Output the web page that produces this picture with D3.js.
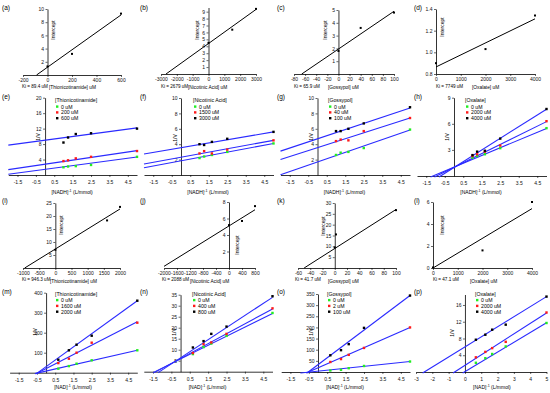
<!DOCTYPE html>
<html>
<head>
<meta charset="utf-8">
<script src="https://cdn.jsdelivr.net/npm/d3@7"></script>
<style>
  body { margin: 0; background: #fff; }
  svg { font-family: "Liberation Sans", Arial, sans-serif; }
</style>
</head>
<body>
<div id="chart"></div>
<script>
// ---- secondary replots: inhibitor concentration vs intercept ----
const concA = [0, 200, 600], interceptA = [1.3, 3.2, 9.3], fitA = [1.18, 0.0132];
const concB = [0, 1500, 3000], interceptB = [4.5, 6.4, 9.4], fitB = [4.4, 0.00164];
const concC = [0, 40, 100], interceptC = [1.8, 3.6, 4.8], fitC = [1.95, 0.0295];
const concD = [0, 2000, 4000], interceptD = [0.9, 1.03, 1.34], fitD = [0.865, 0.000111];
const concI = [0, 1600, 2000], interceptI = [7.0, 18.3, 23.5], fitI = [7.3, 0.0077];
const concJ = [0, 400, 800], interceptJ = [5.2, 5.7, 7.5], fitJ = [5.1, 0.00245];
const concK = [0, 2, 100], interceptK = [9.5, 15.5, 26.7], fitK = [9.0, 0.18];
const concL = [0, 2000, 4000], interceptL = [0.05, 1.6, 6.0], fitL = [0, 0.00135];

const kiText = ["Ki = 89.4 uM", "Ki = 2679 uM", "Ki = 65.9 uM", "Ki = 7749 uM",
                "Ki = 946.3 uM", "Ki = 2088 uM", "Ki = 41.7 uM", "Ki = 47.1 uM"];
const inhibitors = ["[Thionicotinamide]", "[Nicotinic Acid]", "[Gossypol]", "[Oxalate]"];

// ---- Lineweaver-Burk plots ----
const nadhInv = [1, 1.25, 1.67, 2.5, 5];
const nadInv = [0.67, 1.25, 1.67, 2.5, 5];
const halfTicks = [-1.5, -0.5, 0.5, 1.5, 2.5, 3.5, 4.5];

const seriesE = ["0 uM", "200 uM", "600 uM"];
const valuesE = [[2.0, 2.2, 2.3, 2.6, 4.7], [3.6, 3.8, 4.3, 4.7, 6.2], [8.4, 9.7, 10.6, 10.8, 12.0]];
const fitsE = [[1.47, 0.636], [2.8, 0.7], [9.0, 0.64]];

const seriesF = ["0 uM", "1500 uM", "3000 uM"];
const valuesF = [[2.2, 2.4, 2.6, 3.0, 4.1], [2.8, 3.1, 2.8, 3.3, 4.5], [4.0, 3.9, 4.3, 4.7, 5.6]];
const fitsF = [[1.85, 0.45], [2.3, 0.44], [3.55, 0.41]];

const seriesG = ["0 uM", "40 uM", "100 uM"];
const valuesG = [[2.6, 2.9, 3.0, 3.5, 5.9], [4.4, 4.6, 4.5, 5.7, 7.4], [5.7, 5.7, 6.0, 6.7, 8.8]];
const fitsG = [[1.7, 0.83], [3.55, 0.77], [4.7, 0.8]];

const seriesH = ["0 uM", "2000 uM", "4000 uM"];
const valuesH = [[2.1, 2.3, 2.5, 3.2, 5.5], [2.3, 2.5, 2.8, 3.5, 6.3], [2.4, 2.8, 2.9, 4.3, 7.7]];
const fitsH = [[1.02, 0.89], [1.0, 1.05], [0.98, 1.34]];

const seriesM = ["0 uM", "1600 uM", "2000 uM"];
const valuesM = [[20, 33, 45, 62, 112], [48, 70, 100, 150, 250], [65, 112, 140, 185, 360]];
const fitsM = [[8, 20.8], [21, 46.8], [30, 66]];

const seriesN = ["0 uM", "400 uM", "800 uM"];
const valuesN = [[8, 11.2, 12.8, 16.3, 26.7], [8.5, 12.5, 13.3, 17.2, 28.8], [11, 13.9, 17.2, 20.5, 34.3]];
const fitsN = [[5.8, 4.14], [6.0, 4.5], [6.3, 5.5]];

const seriesO = ["0 uM", "2 uM", "100 uM"];
const valuesO = [[7, 10, 17, 27, 47], [45, 58, 77, 108, 200], [75, 98, 125, 198, 343]];
const fitsO = [[4, 8.6], [19, 36.2], [33, 62]];

const seriesP = ["0 uM", "2000 uM", "4000 uM"];
const valuesP = [[2.2, 3.3, 4.3, 6.1, 11.7], [3.5, 4.8, 5.7, 7.2, 14.2], [7.7, 8.9, 10.1, 11.3, 18.0]];
const fitsP = [[0.1, 2.33], [1.6, 2.5], [6.0, 2.4]];

const colors = ["#22ee22", "#ff1a1a", "#000000"];
const lineColor = "#2a2aff";

const svg = d3.select("#chart").append("svg").attr("width", 550).attr("height", 393);

function axisStyle(g) {
  g.select(".domain").attr("stroke", "#000").attr("stroke-width", 0.8);
  g.selectAll(".tick line").attr("stroke", "#000").attr("stroke-width", 0.6);
  g.selectAll(".tick text").attr("font-size", 5).attr("fill", "#111");
}

function tag(txt, x, y) {
  svg.append("text").attr("x", x).attr("y", y).attr("font-size", 6.5).text(txt);
}

function rotLabel(txt, x, y) {
  svg.append("text")
    .attr("transform", `translate(${x},${y}) rotate(-90)`)
    .attr("text-anchor", "middle").attr("dy", "0.35em")
    .attr("font-size", 5).text(txt);
}

function kiPanel(p) {
  const x = d3.scaleLinear().domain(p.xd).range(p.xr);
  const y = d3.scaleLinear().domain(p.yd).range(p.yr);
  svg.append("g").attr("transform", `translate(0,${p.yr[0]})`)
    .call(d3.axisBottom(x).tickValues(p.xt).tickSize(2).tickSizeOuter(0).tickPadding(1.5).tickFormat(String))
    .call(axisStyle);
  svg.append("g").attr("transform", `translate(${x(0)},0)`)
    .call(d3.axisLeft(y).tickValues(p.yt).tickSize(2).tickSizeOuter(0).tickPadding(1.5).tickFormat(p.yf || String))
    .call(axisStyle);

  const [b, m] = p.fit;
  const xs = Math.max(p.xd[0], (p.yd[0] - b) / m);
  const xe = p.xd[1];
  svg.append("line")
    .attr("x1", x(xs)).attr("y1", y(b + m * xs))
    .attr("x2", x(xe)).attr("y2", y(b + m * xe))
    .attr("stroke", "#000").attr("stroke-width", 1);

  svg.append("g").selectAll("rect").data(p.conc).join("rect")
    .attr("x", (d) => x(d) - 1).attr("y", (d, i) => y(p.val[i]) - 1)
    .attr("width", 2).attr("height", 2).attr("fill", "#000");

  tag(p.tag, p.tagPos[0], p.tagPos[1]);
  rotLabel("Intercept", p.icpt[0], p.icpt[1]);
  svg.append("text").attr("x", p.ki[0]).attr("y", p.ki[1]).attr("font-size", 4.6).text(p.kiText);
  svg.append("text").attr("x", p.title[0]).attr("y", p.title[1]).attr("font-size", 4.8).text(p.inh + " uM");
}

function lbPanel(p) {
  const x = d3.scaleLinear().domain(p.xd).range(p.xr);
  const y = d3.scaleLinear().domain(p.yd).range(p.yr);
  svg.append("g").attr("transform", `translate(0,${p.yr[0]})`)
    .call(d3.axisBottom(x).tickValues(p.xt).tickSize(2).tickSizeOuter(0).tickPadding(3.5).tickFormat(String))
    .call(axisStyle);
  svg.append("g").attr("transform", `translate(${x(0)},0)`)
    .call(d3.axisLeft(y).tickValues(p.yt).tickSize(2).tickSizeOuter(0).tickPadding(1.5).tickFormat(String))
    .call(axisStyle);

  const yStart = -0.012 * p.yd[1];
  p.fits.forEach(([b, m]) => {
    const xs = Math.max(p.xd[0], (yStart - b) / m);
    const xe = p.xd[1];
    svg.append("line")
      .attr("x1", x(xs)).attr("y1", y(b + m * xs))
      .attr("x2", x(xe)).attr("y2", y(b + m * xe))
      .attr("stroke", lineColor).attr("stroke-width", 1.1);
  });

  p.vals.forEach((vs, k) => {
    svg.append("g").selectAll("rect").data(vs).join("rect")
      .attr("x", (d, i) => x(p.xs[i]) - 1.2).attr("y", (d) => y(d) - 1.2)
      .attr("width", 2.4).attr("height", 2.4).attr("fill", colors[k]);
  });

  // legend
  const [lx, ly] = p.leg;
  svg.append("text").attr("x", lx).attr("y", ly).attr("font-size", 5.2).text(p.inh);
  p.series.forEach((s, k) => {
    const yy = ly + 6.5 + k * 5.8;
    svg.append("rect").attr("x", lx + 1).attr("y", yy - 3.1)
      .attr("width", 2.4).attr("height", 2.4).attr("fill", colors[k]);
    svg.append("text").attr("x", lx + 6).attr("y", yy).attr("font-size", 5.2).text(s);
  });

  tag(p.tag, p.tagPos[0], p.tagPos[1]);
  rotLabel("1/V", p.yl[0], p.yl[1]);
  const t = svg.append("text").attr("x", x(0) + 27).attr("y", p.xl)
    .attr("text-anchor", "middle").attr("font-size", 5);
  t.append("tspan").text(p.sub);
  t.append("tspan").attr("dy", -2).attr("font-size", 3.6).text("-1");
  t.append("tspan").attr("dy", 2).text(" (L/mmol)");
}

const range = (a, b, s) => d3.range(a, b + s / 2, s);

// row 1
kiPanel({ xd: [-200, 600], xr: [23, 121], yd: [0, 10], yr: [75, 9], xt: range(-200, 600, 200), yt: range(2, 10, 2),
  conc: concA, val: interceptA, fit: fitA, tag: "(a)", tagPos: [2, 10], icpt: [53, 30],
  ki: [22, 88], kiText: kiText[0], title: [49, 89], inh: inhibitors[0] });
kiPanel({ xd: [-3000, 3000], xr: [161, 256], yd: [0, 9.6], yr: [74, 7.5], xt: range(-3000, 3000, 1000), yt: range(1, 9, 1),
  conc: concB, val: interceptB, fit: fitB, tag: "(b)", tagPos: [140, 10], icpt: [197, 30],
  ki: [161, 88], kiText: kiText[1], title: [188, 89], inh: inhibitors[1] });
kiPanel({ xd: [-80, 100], xr: [294, 394], yd: [0, 5], yr: [74, 10], xt: range(-80, 100, 20), yt: range(1, 5, 1),
  conc: concC, val: interceptC, fit: fitC, tag: "(c)", tagPos: [277, 10], icpt: [325, 30],
  ki: [294, 88], kiText: kiText[2], title: [328, 89], inh: inhibitors[2] });
kiPanel({ xd: [0, 4000], xr: [436, 535], yd: [0.8, 1.4], yr: [74, 9], xt: range(0, 4000, 1000), yt: [0.8, 1.0, 1.2, 1.4],
  yf: d3.format(".1f"), conc: concD, val: interceptD, fit: fitD, tag: "(d)", tagPos: [414, 10], icpt: [442, 27],
  ki: [436, 88], kiText: kiText[3], title: [472, 89], inh: inhibitors[3] });

// row 2
lbPanel({ xd: [-2, 5], xr: [8.3, 137], yd: [0, 20], yr: [175, 97.7], xt: halfTicks, yt: range(4, 20, 4),
  xs: nadhInv, vals: valuesE, fits: fitsE, series: seriesE, inh: inhibitors[0], leg: [55, 102],
  tag: "(e)", tagPos: [2, 99], yl: [38.5, 137], xl: 194, sub: "[NADH]" });
lbPanel({ xd: [-2, 5], xr: [144, 273.5], yd: [0, 10], yr: [175, 98], xt: halfTicks, yt: range(2, 10, 2),
  xs: nadhInv, vals: valuesF, fits: fitsF, series: seriesF, inh: inhibitors[1], leg: [193, 102],
  tag: "(f)", tagPos: [140, 99], yl: [175, 138], xl: 194, sub: "[NADH]" });
lbPanel({ xd: [-2, 5], xr: [280.5, 410], yd: [0, 10], yr: [175, 98], xt: halfTicks, yt: range(2, 10, 2),
  xs: nadhInv, vals: valuesG, fits: fitsG, series: seriesG, inh: inhibitors[2], leg: [328, 102],
  tag: "(g)", tagPos: [277, 99], yl: [311, 137], xl: 194, sub: "[NADH]" });
lbPanel({ xd: [-2, 5], xr: [417, 546.5], yd: [0, 9], yr: [176, 97.7], xt: halfTicks, yt: [3, 6, 9],
  xs: nadhInv, vals: valuesH, fits: fitsH, series: seriesH, inh: inhibitors[3], leg: [465, 102],
  tag: "(h)", tagPos: [414, 99], yl: [447, 137], xl: 194, sub: "[NADH]" });

// row 3
kiPanel({ xd: [-1000, 2000], xr: [23, 120], yd: [0, 25], yr: [268, 203], xt: range(-1000, 2000, 500), yt: range(5, 25, 5),
  conc: concI, val: interceptI, fit: fitI, tag: "(i)", tagPos: [2, 203], icpt: [61, 225],
  ki: [22, 281], kiText: kiText[4], title: [50, 283], inh: inhibitors[0] });
kiPanel({ xd: [-2000, 800], xr: [164, 255], yd: [0, 8], yr: [268, 202], xt: range(-2000, 800, 400), yt: range(2, 8, 2),
  conc: concJ, val: interceptJ, fit: fitJ, tag: "(j)", tagPos: [140, 203], icpt: [237, 245],
  ki: [162, 281], kiText: kiText[5], title: [190, 283], inh: inhibitors[1] });
kiPanel({ xd: [-60, 100], xr: [298, 396], yd: [0, 30], yr: [268, 203], xt: range(-60, 100, 20), yt: range(5, 30, 5),
  conc: concK, val: interceptK, fit: fitK, tag: "(k)", tagPos: [277, 203], icpt: [323, 226],
  ki: [295, 281], kiText: kiText[6], title: [328, 283], inh: inhibitors[2] });
kiPanel({ xd: [0, 4000], xr: [433, 532], yd: [0, 6], yr: [268, 202], xt: range(0, 4000, 1000), yt: range(0, 6, 2),
  conc: concL, val: interceptL, fit: fitL, tag: "(l)", tagPos: [414, 203], icpt: [442, 225],
  ki: [433, 281], kiText: kiText[7], title: [470, 283], inh: inhibitors[3] });

// row 4
lbPanel({ xd: [-2, 5], xr: [9.6, 137.3], yd: [0, 400], yr: [372.7, 292.7], xt: halfTicks, yt: range(100, 400, 100),
  xs: nadInv, vals: valuesM, fits: fitsM, series: seriesM, inh: inhibitors[0], leg: [55, 295.5],
  tag: "(m)", tagPos: [2, 294], yl: [35, 332], xl: 388.5, sub: "[NAD]" });
lbPanel({ xd: [-2, 5], xr: [143.8, 272.5], yd: [0, 35], yr: [371.7, 294.7], xt: halfTicks, yt: range(5, 35, 5),
  xs: nadInv, vals: valuesN, fits: fitsN, series: seriesN, inh: inhibitors[1], leg: [192, 295.5],
  tag: "(n)", tagPos: [140, 294], yl: [174, 332], xl: 388.5, sub: "[NAD]" });
lbPanel({ xd: [-2, 5], xr: [281.2, 410], yd: [0, 350], yr: [372, 294], xt: halfTicks, yt: range(50, 350, 50),
  xs: nadInv, vals: valuesO, fits: fitsO, series: seriesO, inh: inhibitors[2], leg: [327, 295.5],
  tag: "(o)", tagPos: [277, 294], yl: [311, 332], xl: 388.5, sub: "[NAD]" });
lbPanel({ xd: [-3, 5], xr: [416, 546.5], yd: [0, 18.5], yr: [372, 294.5], xt: range(-3, 5, 1), yt: range(4, 16, 4),
  xs: nadInv, vals: valuesP, fits: fitsP, series: seriesP, inh: inhibitors[3], leg: [475, 295.5],
  tag: "(p)", tagPos: [414, 294], yl: [452, 333], xl: 388.5, sub: "[NAD]" });
</script>
</body>
</html>
